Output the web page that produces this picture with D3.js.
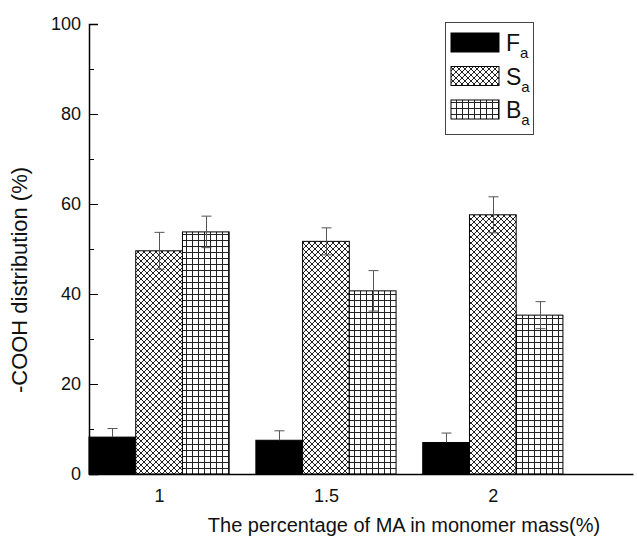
<!DOCTYPE html>
<html>
<head>
<meta charset="utf-8">
<script src="https://cdn.jsdelivr.net/npm/d3@7/dist/d3.min.js"></script>
<style>
  html, body { margin: 0; padding: 0; background: #fff; }
  svg { display: block; font-family: "Liberation Sans", Arial, sans-serif; }
</style>
</head>
<body>
<svg id="chart" width="637" height="537"></svg>
<script>
// MA content in monomer mass (%)
const categories = [1, 1.5, 2];
const seriesNames = ["F", "S", "B"];
// -COOH distribution (%) for each fraction
const faValues = [8.2, 7.5, 7.0];
const saValues = [49.6, 51.7, 57.6];
const baValues = [53.8, 40.7, 35.3];
// standard deviations
const faErrors = [1.9, 2.1, 2.1];
const saErrors = [4.1, 3.0, 4.0];
const baErrors = [3.5, 4.5, 3.0];
const yTicks = [0, 20, 40, 60, 80, 100];
const yMinorTicks = [10, 30, 50, 70, 90];

const svg = d3.select("#chart");
const defs = svg.append("defs");

// cross-hatch fill
const cross = defs.append("pattern")
  .attr("id", "crossHatch").attr("patternUnits", "userSpaceOnUse")
  .attr("width", 6).attr("height", 6);
cross.append("rect").attr("width", 6).attr("height", 6).attr("fill", "#fff");
cross.append("path").attr("d", "M0,0L6,6M6,0L0,6M-1,5L1,7M5,-1L7,1M-1,1L1,-1M5,7L7,5")
  .attr("stroke", "#222").attr("stroke-width", 1).attr("fill", "none");

// square grid fill
const grid = defs.append("pattern")
  .attr("id", "gridFill").attr("patternUnits", "userSpaceOnUse")
  .attr("width", 6).attr("height", 6);
grid.append("rect").attr("width", 6).attr("height", 6).attr("fill", "#fff");
grid.append("path").attr("d", "M0.5,0V6M0,0.5H6")
  .attr("stroke", "#222").attr("stroke-width", 1).attr("fill", "none");

const fills = ["#000", "url(#crossHatch)", "url(#gridFill)"];

const x = d3.scaleLinear().domain([0.79, 2.42]).range([89, 633]);
const y = d3.scaleLinear().domain([0, 100]).range([474, 24]);

const groupHalf = 0.21;
const inner = d3.scaleBand().domain(seriesNames)
  .range([-(x(1 + groupHalf) - x(1)), x(1 + groupHalf) - x(1)]);

const values = [faValues, saValues, baValues];
const errors = [faErrors, saErrors, baErrors];

const rows = [];
seriesNames.forEach((s, si) => {
  categories.forEach((c, ci) => {
    rows.push({ s, si, c, v: values[si][ci], e: errors[si][ci] });
  });
});

// bars
svg.append("g").selectAll("rect").data(rows).join("rect")
  .attr("x", d => x(d.c) + inner(d.s))
  .attr("y", d => y(d.v))
  .attr("width", inner.bandwidth())
  .attr("height", d => y(0) - y(d.v))
  .attr("fill", d => fills[d.si])
  .attr("stroke", "#000").attr("stroke-width", 1);

// error bars
const eg = svg.append("g").attr("stroke", "#555").attr("stroke-width", 1).attr("fill", "none");
rows.forEach(d => {
  const cx = Math.round(x(d.c) + inner(d.s) + inner.bandwidth() / 2) + 0.5;
  const lo = d.si === 0 ? d.v : d.v - d.e;
  eg.append("line").attr("x1", cx).attr("x2", cx).attr("y1", y(d.v + d.e)).attr("y2", y(lo));
  eg.append("line").attr("x1", cx - 5).attr("x2", cx + 5).attr("y1", y(d.v + d.e)).attr("y2", y(d.v + d.e));
  if (d.si !== 0) {
    eg.append("line").attr("x1", cx - 5).attr("x2", cx + 5).attr("y1", y(d.v - d.e)).attr("y2", y(d.v - d.e));
  }
});

// y axis, ticks pointing into the plot
const yAxis = svg.append("g").attr("transform", `translate(${x.range()[0]},0)`)
  .call(d3.axisRight(y).tickValues(yTicks).tickSize(9).tickFormat(""));
yAxis.select(".domain").attr("stroke-width", 1.5);
svg.append("g").attr("transform", `translate(${x.range()[0]},0)`)
  .call(d3.axisRight(y).tickValues(yMinorTicks).tickSize(5).tickFormat(""))
  .select(".domain").remove();
svg.append("g").selectAll("text").data(yTicks).join("text")
  .attr("x", x.range()[0] - 8).attr("y", d => y(d)).attr("dy", "0.35em")
  .attr("text-anchor", "end").attr("font-size", 18).attr("fill", "#111")
  .text(d => d);

// x axis
const xAxis = svg.append("g").attr("transform", `translate(0,${y(0)})`)
  .call(d3.axisBottom(x).tickValues(categories).tickSize(0).tickPadding(15)
    .tickFormat(d => d));
xAxis.select(".domain").attr("stroke-width", 1.5);
xAxis.selectAll("text").attr("font-size", 18).attr("fill", "#111")
  .attr("font-family", "Liberation Sans, Arial, sans-serif");

// axis titles
svg.append("text").attr("x", 404).attr("y", 532).attr("text-anchor", "middle")
  .attr("font-size", 20).attr("fill", "#111")
  .text("The percentage of MA in monomer mass(%)");
svg.append("text").attr("transform", "translate(27,280) rotate(-90)")
  .attr("text-anchor", "middle").attr("font-size", 22).attr("fill", "#111")
  .text("-COOH distribution (%)");

// legend
const legend = svg.append("g");
legend.append("rect").attr("x", 445.5).attr("y", 22.5).attr("width", 88).attr("height", 112)
  .attr("fill", "#fff").attr("stroke", "#444").attr("stroke-width", 1);
seriesNames.forEach((s, i) => {
  const top = 33 + i * 33.5;
  legend.append("rect").attr("x", 451).attr("y", top).attr("width", 48).attr("height", 19)
    .attr("fill", fills[i]).attr("stroke", "#000").attr("stroke-width", 1);
  const t = legend.append("text").attr("x", 506).attr("y", top + 18)
    .attr("font-size", 23).attr("fill", "#111");
  t.append("tspan").text(s);
  t.append("tspan").attr("font-size", 15).attr("dy", 7).text("a");
});
</script>
</body>
</html>
